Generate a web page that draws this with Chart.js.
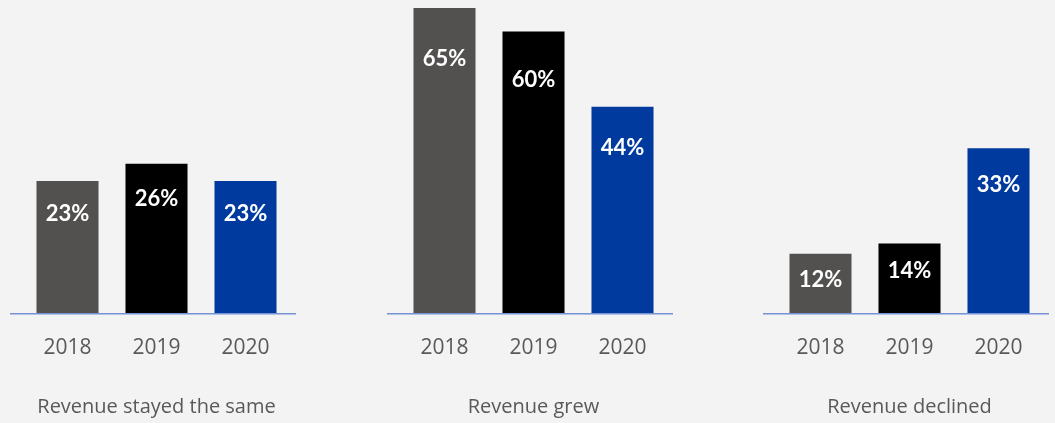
<!DOCTYPE html>
<html>
<head>
<meta charset="utf-8">
<script src="https://cdn.jsdelivr.net/npm/chart.js@4.4.1/dist/chart.umd.min.js"></script>
<style>
  html, body { margin: 0; padding: 0; background: #f3f3f3; }
  #wrap { position: relative; width: 1055px; height: 423px; overflow: hidden; }
  .box { position: absolute; top: 0; width: 300px; height: 423px; }
</style>
</head>
<body>
<div id="wrap">
  <div class="box" style="left:0px"><canvas id="c1"></canvas></div>
  <div class="box" style="left:377px"><canvas id="c2"></canvas></div>
  <div class="box" style="left:753px"><canvas id="c3"></canvas></div>
</div>
<script>
// Datos
const years = ["2018", "2019", "2020"];
const groupTitles = ["Revenue stayed the same", "Revenue grew", "Revenue declined"];
const stayedSame = [23, 26, 23];
const grew = [65, 60, 44];
const declined = [12, 14, 33];
const groupMax = [53, 65, 61];

const barColors = ["#525150", "#000000", "#003a9f"];
const textColor = "#595959";

// Linea base y etiquetas blancas dentro de las barras
const barExtras = {
  id: "barExtras",
  afterDatasetsDraw(chart) {
    const ctx = chart.ctx;
    const area = chart.chartArea;
    ctx.save();
    ctx.strokeStyle = "#7592d4";
    ctx.lineWidth = 1.5;
    ctx.beginPath();
    ctx.moveTo(area.left - 13, area.bottom);
    ctx.lineTo(area.right + 6, area.bottom);
    ctx.stroke();

    const meta = chart.getDatasetMeta(0);
    const values = chart.data.datasets[0].data;
    ctx.fillStyle = "#ffffff";
    ctx.font = "bold 22px Lato";
    ctx.textAlign = "center";
    ctx.textBaseline = "middle";
    meta.data.forEach((bar, i) => {
      const h = bar.base - bar.y;
      ctx.fillText(values[i] + "%", bar.x, bar.y + 20 + h * 0.1);
    });
    ctx.restore();
  }
};

function makeChart(id, values, title, max) {
  return new Chart(document.getElementById(id), {
    type: "bar",
    data: {
      labels: years,
      datasets: [{
        data: values,
        backgroundColor: barColors,
        barPercentage: 0.697,
        categoryPercentage: 1
      }]
    },
    options: {
      responsive: true,
      maintainAspectRatio: false,
      animation: false,
      layout: { padding: { left: 23, right: 10, top: 8, bottom: 0 } },
      plugins: {
        legend: { display: false },
        tooltip: { enabled: false }
      },
      scales: {
        y: { display: false, min: 0, max: max },
        x: {
          grid: { display: false, drawTicks: false },
          border: { display: false },
          ticks: {
            color: textColor,
            padding: 22,
            font: { family: "Open Sans", size: 21, lineHeight: 1.2 }
          },
          title: {
            display: true,
            text: title,
            color: textColor,
            padding: { top: 12, bottom: 4 },
            font: { family: "Open Sans", size: 20, lineHeight: 1.2 }
          }
        }
      }
    },
    plugins: [barExtras]
  });
}

makeChart("c1", stayedSame, groupTitles[0], groupMax[0]);
makeChart("c2", grew, groupTitles[1], groupMax[1]);
makeChart("c3", declined, groupTitles[2], groupMax[2]);
</script>
</body>
</html>
